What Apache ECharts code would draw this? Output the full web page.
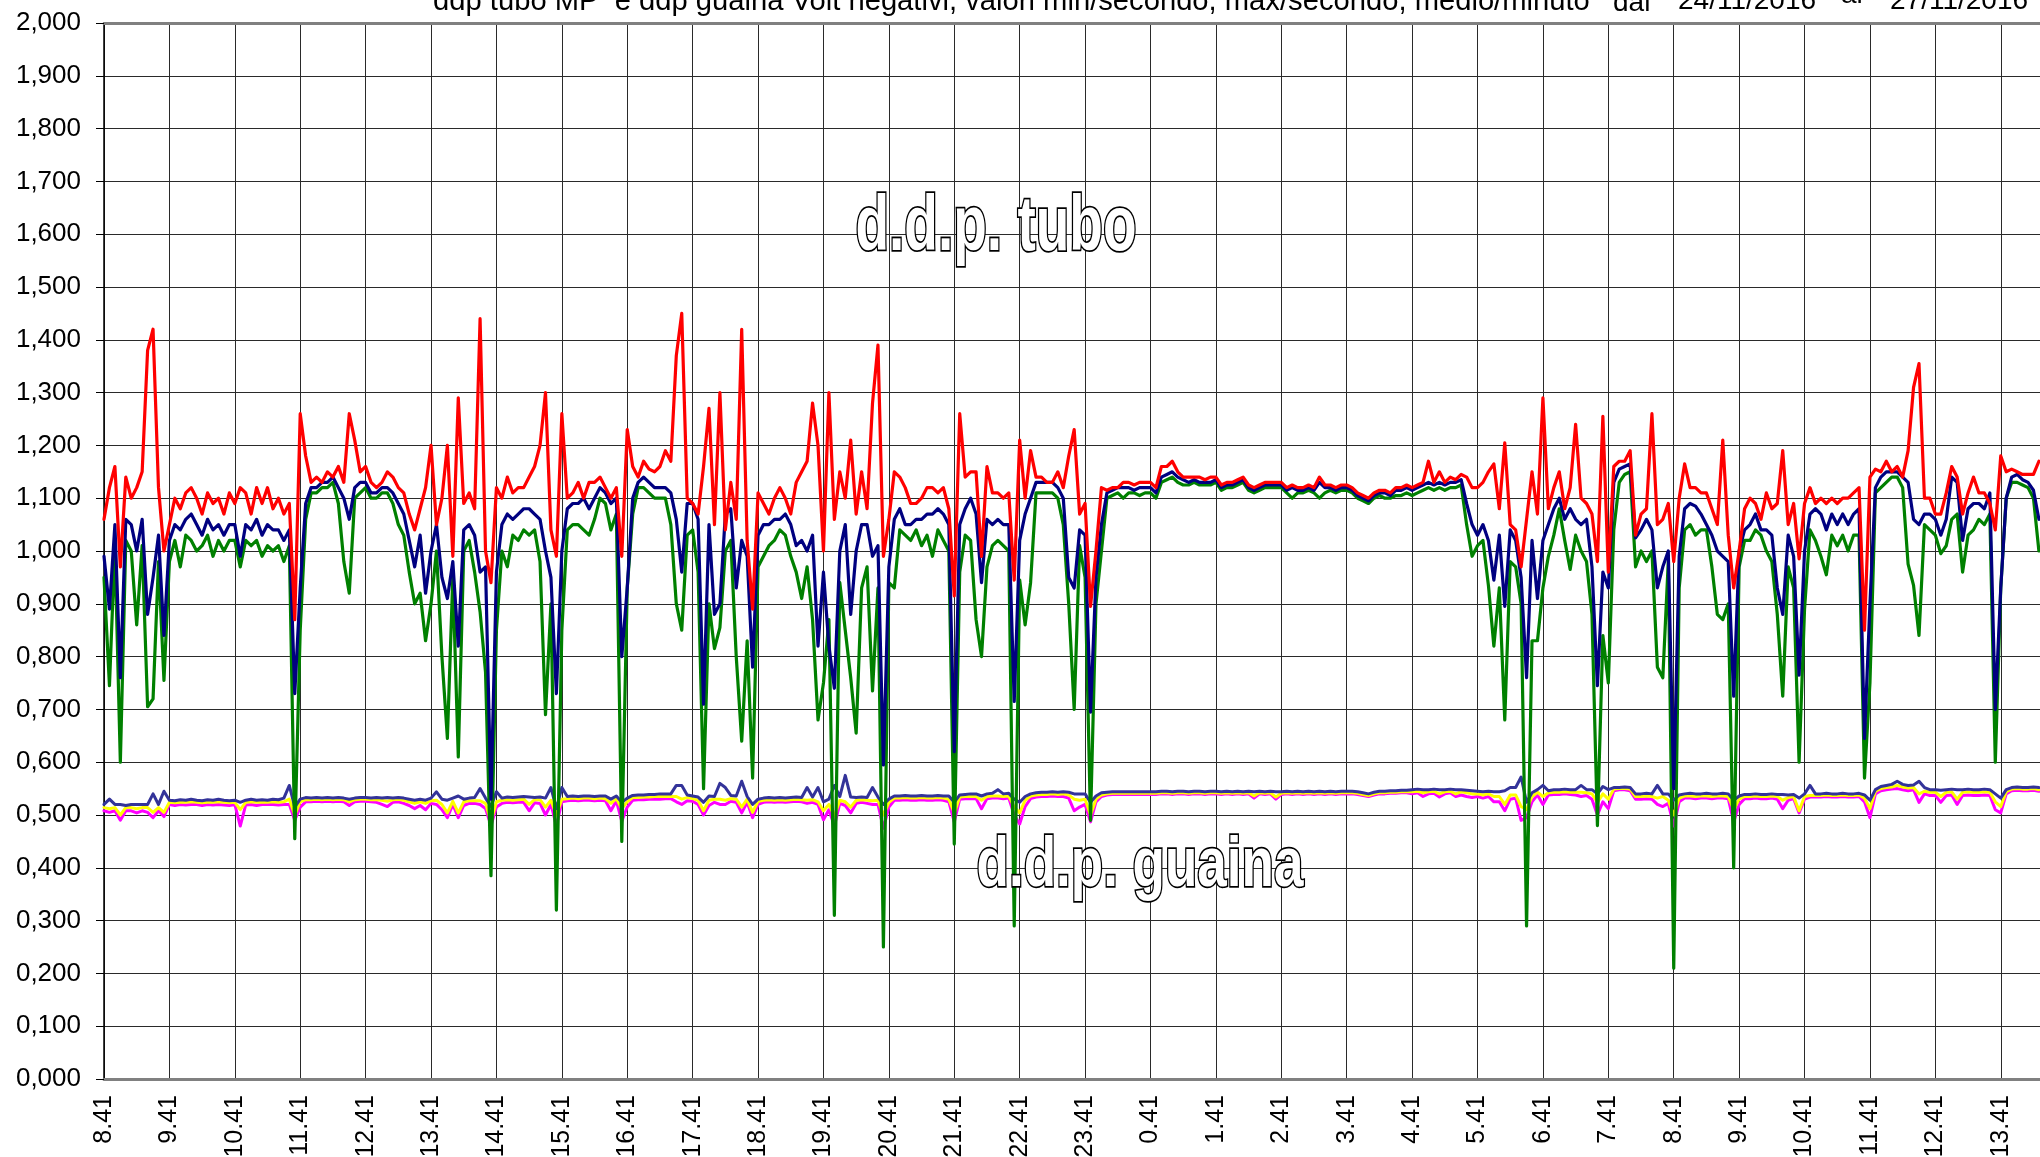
<!DOCTYPE html>
<html><head><meta charset="utf-8">
<script src="https://cdn.jsdelivr.net/npm/echarts/dist/echarts.min.js"></script>
<style>html,body{margin:0;padding:0;background:#fff}#c{width:2040px;height:1157px}</style>
</head><body><div id="c"></div>
<script>
// time step (minutes after 8.41) between consecutive readings
const STEP_MIN = 5;
const X_MAX = 1776;
const xTickLabels = ['8.41','9.41','10.41','11.41','12.41','13.41','14.41','15.41','16.41','17.41','18.41','19.41','20.41','21.41','22.41','23.41','0.41','1.41','2.41','3.41','4.41','5.41','6.41','7.41','8.41','9.41','10.41','11.41','12.41','13.41'];

// d.d.p. tubo - max/secondo (red)
const tuboMax = [
1.06,1.12,1.16,0.97,1.14,1.10,1.12,1.15,1.38,1.42,1.12,1.00,
1.05,1.10,1.08,1.11,1.12,1.10,1.07,1.11,1.09,1.10,1.07,1.11,
1.09,1.12,1.11,1.07,1.12,1.09,1.12,1.08,1.10,1.07,1.09,0.87,
1.26,1.18,1.13,1.14,1.13,1.15,1.14,1.16,1.13,1.26,1.21,1.15,
1.16,1.13,1.12,1.13,1.15,1.14,1.12,1.11,1.07,1.04,1.08,1.12,
1.20,1.05,1.10,1.20,0.99,1.29,1.09,1.11,1.08,1.44,1.00,0.94,
1.12,1.10,1.14,1.11,1.12,1.12,1.14,1.16,1.20,1.30,1.04,0.99,
1.26,1.10,1.11,1.13,1.10,1.13,1.13,1.14,1.12,1.10,1.12,0.99,
1.23,1.16,1.14,1.17,1.155,1.15,1.16,1.19,1.17,1.37,1.45,1.10,
1.09,1.07,1.16,1.27,1.05,1.30,1.04,1.13,1.06,1.42,1.02,0.89,
1.11,1.09,1.07,1.10,1.12,1.10,1.07,1.13,1.15,1.17,1.28,1.20,
1.00,1.30,1.06,1.15,1.10,1.21,1.07,1.15,1.08,1.28,1.39,0.99,
1.06,1.15,1.14,1.12,1.09,1.09,1.10,1.12,1.12,1.11,1.12,1.08,
0.915,1.26,1.14,1.15,1.15,0.99,1.16,1.11,1.11,1.10,1.11,0.945,
1.21,1.10,1.19,1.14,1.14,1.13,1.13,1.15,1.12,1.18,1.23,1.07,
1.09,0.895,1.00,1.12,1.115,1.12,1.12,1.13,1.13,1.125,1.13,1.13,
1.13,1.12,1.16,1.16,1.17,1.15,1.14,1.14,1.14,1.14,1.135,1.14,
1.14,1.125,1.13,1.13,1.135,1.14,1.125,1.12,1.125,1.13,1.13,1.13,
1.13,1.12,1.125,1.12,1.12,1.125,1.12,1.14,1.125,1.125,1.12,1.125,
1.125,1.12,1.11,1.105,1.10,1.11,1.115,1.115,1.11,1.12,1.12,1.125,
1.12,1.125,1.13,1.17,1.13,1.15,1.13,1.14,1.135,1.145,1.14,1.12,
1.12,1.13,1.15,1.165,1.08,1.205,1.05,1.04,0.97,1.06,1.15,1.07,
1.29,1.08,1.12,1.15,1.08,1.12,1.24,1.10,1.09,1.07,0.98,1.255,
0.96,1.16,1.17,1.17,1.19,1.03,1.07,1.08,1.26,1.05,1.06,1.09,
0.98,1.10,1.165,1.12,1.12,1.11,1.11,1.08,1.05,1.21,1.03,0.93,
1.00,1.08,1.10,1.09,1.06,1.11,1.08,1.09,1.19,1.05,1.09,0.985,
1.09,1.12,1.09,1.10,1.09,1.10,1.09,1.10,1.10,1.11,1.12,0.85,
1.14,1.155,1.15,1.17,1.15,1.16,1.14,1.19,1.31,1.355,1.10,1.10,
1.07,1.07,1.11,1.16,1.14,1.07,1.11,1.14,1.11,1.11,1.09,1.04,
1.18,1.15,1.155,1.15,1.145,1.145,1.145,1.17
];

// d.d.p. tubo - medio/minuto (navy)
const tuboMean = [
0.99,0.89,1.05,0.76,1.06,1.05,1.00,1.06,0.88,0.95,1.03,0.84,
1.02,1.05,1.04,1.06,1.07,1.05,1.03,1.06,1.04,1.05,1.03,1.05,
1.05,0.99,1.05,1.04,1.06,1.03,1.05,1.04,1.04,1.02,1.04,0.73,
0.93,1.09,1.12,1.12,1.13,1.13,1.14,1.12,1.10,1.06,1.12,1.13,
1.13,1.11,1.11,1.12,1.12,1.11,1.09,1.07,1.02,0.97,1.03,0.92,
1.00,1.05,0.95,0.91,0.98,0.82,1.04,1.05,1.03,0.96,0.97,0.53,
0.96,1.05,1.07,1.06,1.07,1.08,1.08,1.07,1.06,1.00,0.95,0.73,
1.00,1.08,1.09,1.09,1.10,1.08,1.10,1.12,1.11,1.09,1.10,0.80,
0.93,1.10,1.13,1.14,1.13,1.12,1.12,1.12,1.11,1.06,0.96,1.09,
1.09,1.06,0.71,1.05,0.88,0.90,1.07,1.08,0.93,1.02,0.99,0.78,
1.03,1.05,1.05,1.06,1.06,1.07,1.05,1.01,1.02,1.00,1.03,0.82,
0.96,0.82,0.74,1.00,1.05,0.88,1.00,1.05,1.05,0.99,1.01,0.595,
0.97,1.06,1.08,1.05,1.05,1.06,1.06,1.07,1.07,1.08,1.07,1.05,
0.62,1.05,1.08,1.10,1.07,0.94,1.06,1.05,1.06,1.05,1.05,0.715,
1.02,1.07,1.10,1.13,1.13,1.13,1.13,1.12,1.10,0.95,0.93,1.04,
1.03,0.695,0.95,1.05,1.11,1.115,1.12,1.12,1.12,1.115,1.12,1.12,
1.12,1.11,1.14,1.145,1.15,1.14,1.135,1.13,1.135,1.13,1.13,1.13,
1.135,1.12,1.125,1.125,1.13,1.135,1.12,1.115,1.12,1.125,1.125,1.125,
1.125,1.115,1.12,1.115,1.115,1.12,1.115,1.13,1.12,1.12,1.115,1.12,
1.12,1.115,1.105,1.10,1.095,1.105,1.11,1.11,1.105,1.115,1.115,1.12,
1.115,1.12,1.125,1.13,1.125,1.13,1.125,1.13,1.13,1.135,1.09,1.05,
1.03,1.05,1.02,0.945,1.03,0.895,1.04,1.02,0.95,0.76,1.02,0.91,
1.02,1.05,1.08,1.10,1.06,1.08,1.06,1.05,1.06,0.97,0.745,0.96,
0.93,1.13,1.155,1.16,1.165,1.025,1.04,1.06,1.04,0.93,0.97,1.00,
0.55,0.99,1.08,1.09,1.085,1.07,1.05,1.03,1.00,0.99,0.98,0.725,
1.00,1.04,1.05,1.07,1.04,1.04,1.03,0.93,0.88,1.03,0.99,0.765,
1.00,1.07,1.08,1.07,1.04,1.07,1.05,1.07,1.05,1.07,1.08,0.645,
0.90,1.12,1.14,1.15,1.15,1.15,1.14,1.13,1.06,1.05,1.07,1.07,
1.06,1.03,1.06,1.14,1.13,1.02,1.08,1.09,1.09,1.08,1.11,0.70,
0.93,1.10,1.14,1.145,1.135,1.13,1.115,1.06
];

// d.d.p. tubo - min/secondo (green)
const tuboMin = [
0.95,0.745,1.01,0.60,1.02,1.00,0.86,1.01,0.705,0.72,0.98,0.755,
0.98,1.02,0.97,1.03,1.02,1.00,1.01,1.03,0.99,1.02,1.00,1.02,
1.02,0.97,1.02,1.01,1.02,0.99,1.01,1.00,1.01,0.98,1.01,0.455,
0.85,1.06,1.11,1.11,1.12,1.12,1.13,1.09,0.98,0.92,1.10,1.11,
1.12,1.10,1.10,1.11,1.11,1.09,1.05,1.03,0.96,0.90,0.92,0.83,
0.90,1.00,0.80,0.645,0.95,0.61,1.00,1.02,0.96,0.885,0.77,0.385,
0.85,1.00,0.97,1.03,1.02,1.04,1.03,1.04,0.98,0.69,0.90,0.32,
0.85,1.04,1.05,1.05,1.04,1.03,1.06,1.10,1.09,1.04,1.07,0.45,
0.93,1.07,1.12,1.12,1.11,1.10,1.10,1.10,1.05,0.90,0.85,1.03,
1.04,0.96,0.55,0.90,0.815,0.855,1.00,1.02,0.80,0.64,0.83,0.57,
0.97,0.99,1.01,1.02,1.04,1.03,0.99,0.96,0.91,0.97,0.87,0.68,
0.75,0.87,0.31,0.94,0.85,0.76,0.655,0.93,0.97,0.735,0.93,0.25,
0.94,0.93,1.04,1.03,1.02,1.04,1.01,1.03,0.99,1.04,1.02,1.00,
0.445,0.96,1.03,1.02,0.87,0.80,0.97,1.01,1.02,1.01,1.00,0.29,
0.945,0.86,0.94,1.11,1.11,1.11,1.11,1.10,1.05,0.90,0.70,1.01,
0.95,0.49,0.90,1.00,1.10,1.105,1.11,1.10,1.11,1.11,1.105,1.11,
1.11,1.10,1.13,1.135,1.14,1.13,1.125,1.125,1.13,1.125,1.125,1.125,
1.13,1.115,1.12,1.12,1.125,1.13,1.115,1.11,1.115,1.12,1.12,1.12,
1.12,1.11,1.10,1.11,1.11,1.115,1.11,1.10,1.11,1.115,1.11,1.115,
1.115,1.11,1.10,1.095,1.09,1.10,1.105,1.10,1.10,1.105,1.105,1.11,
1.105,1.11,1.115,1.12,1.115,1.12,1.115,1.12,1.12,1.125,1.05,0.99,
1.01,1.02,0.935,0.82,0.93,0.68,0.98,0.97,0.90,0.29,0.83,0.83,
0.93,0.99,1.03,1.08,1.02,0.965,1.03,1.00,0.98,0.88,0.48,0.84,
0.75,1.04,1.13,1.145,1.15,0.97,1.00,0.98,1.00,0.78,0.76,0.98,
0.21,0.93,1.04,1.05,1.03,1.04,1.04,0.97,0.88,0.87,0.90,0.40,
0.97,1.02,1.02,1.04,1.03,1.00,0.98,0.88,0.725,0.97,0.93,0.60,
0.89,1.04,1.02,0.99,0.955,1.03,1.01,1.03,1.00,1.03,1.03,0.57,
0.75,1.11,1.12,1.13,1.14,1.14,1.12,0.975,0.935,0.84,1.05,1.04,
1.03,0.995,1.01,1.06,1.07,0.96,1.03,1.04,1.06,1.05,1.07,0.60,
0.93,1.10,1.13,1.13,1.125,1.12,1.10,1.00
];

// d.d.p. guaina - max/secondo (blue)
const guainaMax = [
0.52,0.53,0.52,0.52,0.518,0.52,0.52,0.52,0.52,0.54,0.52,0.545,
0.528,0.527,0.529,0.528,0.53,0.528,0.527,0.529,0.528,0.53,0.528,0.527,
0.528,0.524,0.528,0.53,0.528,0.529,0.528,0.53,0.529,0.532,0.556,0.515,
0.53,0.533,0.532,0.533,0.532,0.533,0.532,0.533,0.532,0.53,0.532,0.533,
0.533,0.532,0.533,0.532,0.533,0.532,0.533,0.532,0.53,0.528,0.53,0.528,
0.532,0.544,0.53,0.528,0.532,0.536,0.53,0.532,0.533,0.55,0.532,0.516,
0.544,0.532,0.534,0.533,0.534,0.535,0.534,0.533,0.534,0.532,0.552,0.512,
0.552,0.535,0.536,0.535,0.536,0.536,0.535,0.536,0.536,0.53,0.536,0.524,
0.532,0.537,0.538,0.538,0.539,0.539,0.54,0.54,0.54,0.556,0.556,0.538,
0.536,0.534,0.524,0.536,0.535,0.56,0.552,0.537,0.536,0.564,0.535,0.52,
0.53,0.532,0.533,0.532,0.533,0.532,0.533,0.534,0.533,0.552,0.534,0.552,
0.525,0.53,0.556,0.535,0.575,0.534,0.533,0.534,0.533,0.552,0.534,0.52,
0.53,0.536,0.536,0.537,0.536,0.536,0.537,0.536,0.536,0.537,0.536,0.536,
0.524,0.538,0.539,0.54,0.54,0.536,0.54,0.541,0.548,0.54,0.541,0.53,
0.524,0.535,0.54,0.542,0.543,0.543,0.544,0.543,0.544,0.543,0.54,0.54,
0.54,0.524,0.536,0.542,0.543,0.544,0.544,0.544,0.544,0.544,0.544,0.544,
0.544,0.544,0.545,0.545,0.544,0.545,0.545,0.544,0.545,0.545,0.544,0.545,
0.545,0.544,0.545,0.544,0.545,0.544,0.545,0.544,0.545,0.544,0.545,0.544,
0.544,0.545,0.544,0.545,0.544,0.545,0.544,0.545,0.544,0.545,0.544,0.545,
0.545,0.545,0.544,0.542,0.54,0.543,0.545,0.545,0.546,0.546,0.547,0.547,
0.548,0.549,0.548,0.548,0.549,0.548,0.548,0.549,0.548,0.548,0.547,0.546,
0.545,0.544,0.545,0.544,0.544,0.546,0.552,0.552,0.572,0.524,0.542,0.548,
0.556,0.546,0.548,0.548,0.549,0.548,0.548,0.556,0.548,0.548,0.54,0.554,
0.548,0.552,0.552,0.553,0.552,0.54,0.54,0.541,0.54,0.556,0.54,0.54,
0.528,0.538,0.54,0.541,0.54,0.54,0.541,0.54,0.54,0.541,0.54,0.528,
0.536,0.539,0.539,0.54,0.539,0.539,0.54,0.539,0.539,0.538,0.539,0.532,
0.54,0.556,0.54,0.54,0.541,0.54,0.54,0.541,0.54,0.54,0.541,0.538,
0.528,0.548,0.554,0.556,0.558,0.564,0.558,0.556,0.557,0.564,0.552,0.548,
0.548,0.547,0.548,0.549,0.548,0.548,0.549,0.548,0.548,0.549,0.548,0.54,
0.532,0.548,0.552,0.553,0.552,0.552,0.553,0.552
];

// d.d.p. guaina - medio/minuto (yellow)
const guainaMean = [
0.514,0.512,0.514,0.50,0.514,0.514,0.512,0.514,0.514,0.505,0.514,0.505,
0.524,0.523,0.524,0.524,0.525,0.524,0.523,0.524,0.524,0.525,0.524,0.523,
0.524,0.51,0.524,0.525,0.524,0.524,0.524,0.525,0.524,0.525,0.53,0.50,
0.525,0.529,0.529,0.53,0.529,0.53,0.529,0.53,0.529,0.525,0.529,0.53,
0.53,0.529,0.529,0.528,0.526,0.529,0.53,0.528,0.525,0.522,0.525,0.522,
0.527,0.528,0.52,0.504,0.526,0.504,0.525,0.527,0.527,0.527,0.522,0.488,
0.525,0.528,0.529,0.528,0.529,0.53,0.52,0.529,0.529,0.515,0.528,0.50,
0.53,0.531,0.532,0.531,0.532,0.532,0.531,0.532,0.531,0.522,0.531,0.512,
0.525,0.533,0.533,0.534,0.534,0.535,0.535,0.535,0.535,0.535,0.53,0.533,
0.531,0.528,0.508,0.528,0.53,0.53,0.528,0.531,0.53,0.515,0.53,0.505,
0.526,0.528,0.529,0.528,0.529,0.528,0.529,0.53,0.529,0.528,0.529,0.525,
0.508,0.52,0.498,0.528,0.525,0.515,0.528,0.529,0.528,0.527,0.528,0.50,
0.524,0.532,0.532,0.533,0.532,0.532,0.533,0.532,0.532,0.533,0.532,0.53,
0.504,0.534,0.535,0.535,0.535,0.528,0.535,0.536,0.536,0.535,0.536,0.515,
0.504,0.528,0.536,0.538,0.539,0.539,0.54,0.539,0.54,0.538,0.53,0.528,
0.53,0.50,0.53,0.538,0.54,0.541,0.541,0.541,0.541,0.541,0.541,0.541,
0.541,0.541,0.542,0.542,0.541,0.542,0.542,0.541,0.542,0.542,0.541,0.542,
0.542,0.541,0.542,0.541,0.542,0.541,0.542,0.536,0.542,0.541,0.542,0.534,
0.541,0.542,0.541,0.542,0.541,0.542,0.541,0.542,0.541,0.542,0.541,0.542,
0.542,0.542,0.541,0.539,0.537,0.54,0.542,0.542,0.543,0.543,0.544,0.544,
0.544,0.545,0.542,0.544,0.545,0.54,0.544,0.545,0.54,0.544,0.542,0.54,
0.54,0.538,0.54,0.535,0.535,0.52,0.538,0.538,0.516,0.51,0.535,0.543,
0.535,0.542,0.543,0.543,0.544,0.543,0.543,0.543,0.542,0.54,0.524,0.54,
0.53,0.549,0.55,0.55,0.549,0.535,0.535,0.536,0.535,0.532,0.535,0.528,
0.50,0.532,0.536,0.536,0.535,0.536,0.536,0.535,0.536,0.536,0.535,0.51,
0.53,0.535,0.535,0.536,0.535,0.535,0.536,0.535,0.528,0.533,0.535,0.508,
0.535,0.537,0.537,0.537,0.538,0.537,0.537,0.538,0.537,0.537,0.538,0.532,
0.512,0.545,0.55,0.552,0.553,0.556,0.553,0.551,0.552,0.54,0.545,0.543,
0.543,0.535,0.543,0.544,0.53,0.543,0.544,0.543,0.543,0.544,0.543,0.525,
0.516,0.544,0.549,0.55,0.549,0.549,0.55,0.548
];

// d.d.p. guaina - min/secondo (magenta)
const guainaMin = [
0.508,0.505,0.508,0.49,0.508,0.508,0.504,0.508,0.505,0.495,0.508,0.497,
0.52,0.518,0.52,0.519,0.52,0.52,0.518,0.52,0.519,0.52,0.519,0.518,
0.52,0.479,0.519,0.52,0.518,0.52,0.52,0.52,0.519,0.52,0.52,0.49,
0.515,0.525,0.525,0.526,0.525,0.526,0.525,0.526,0.525,0.518,0.525,0.526,
0.526,0.525,0.524,0.52,0.516,0.524,0.525,0.522,0.518,0.512,0.518,0.51,
0.522,0.52,0.51,0.495,0.52,0.495,0.518,0.522,0.522,0.52,0.512,0.48,
0.515,0.522,0.524,0.523,0.524,0.524,0.508,0.523,0.522,0.50,0.52,0.48,
0.525,0.527,0.528,0.527,0.528,0.528,0.527,0.528,0.527,0.508,0.527,0.488,
0.515,0.528,0.529,0.529,0.53,0.53,0.53,0.531,0.531,0.525,0.52,0.527,
0.526,0.52,0.50,0.518,0.524,0.52,0.52,0.526,0.524,0.504,0.524,0.495,
0.52,0.524,0.525,0.524,0.525,0.524,0.525,0.526,0.525,0.522,0.524,0.52,
0.491,0.51,0.479,0.522,0.518,0.504,0.522,0.524,0.522,0.52,0.52,0.475,
0.515,0.528,0.528,0.529,0.528,0.528,0.529,0.528,0.528,0.529,0.528,0.525,
0.487,0.53,0.531,0.531,0.531,0.512,0.531,0.532,0.532,0.531,0.532,0.50,
0.483,0.516,0.531,0.534,0.535,0.535,0.536,0.535,0.535,0.532,0.508,0.515,
0.52,0.487,0.525,0.535,0.538,0.539,0.539,0.539,0.539,0.539,0.539,0.539,
0.539,0.539,0.54,0.54,0.539,0.54,0.54,0.539,0.54,0.54,0.539,0.54,
0.54,0.539,0.54,0.539,0.54,0.539,0.54,0.532,0.54,0.539,0.54,0.53,
0.539,0.54,0.539,0.54,0.539,0.54,0.539,0.54,0.539,0.54,0.539,0.54,
0.54,0.54,0.539,0.537,0.535,0.538,0.54,0.54,0.541,0.541,0.542,0.542,
0.54,0.542,0.535,0.54,0.541,0.534,0.54,0.542,0.535,0.538,0.535,0.533,
0.535,0.532,0.535,0.525,0.525,0.508,0.53,0.532,0.49,0.495,0.525,0.538,
0.52,0.538,0.539,0.539,0.54,0.539,0.538,0.535,0.537,0.53,0.50,0.525,
0.512,0.546,0.548,0.548,0.546,0.53,0.53,0.531,0.53,0.52,0.516,0.522,
0.479,0.525,0.532,0.532,0.531,0.532,0.532,0.531,0.532,0.532,0.531,0.487,
0.52,0.531,0.531,0.532,0.531,0.531,0.532,0.53,0.512,0.528,0.531,0.504,
0.53,0.534,0.534,0.534,0.535,0.534,0.534,0.535,0.534,0.534,0.535,0.525,
0.495,0.54,0.546,0.548,0.549,0.55,0.548,0.546,0.548,0.524,0.54,0.537,
0.537,0.524,0.537,0.538,0.52,0.537,0.538,0.537,0.537,0.538,0.537,0.51,
0.504,0.54,0.546,0.547,0.546,0.546,0.547,0.545
];

const titleMain = 'ddp tubo MP  e ddp guaina Volt negativi, valori min/secondo, max/secondo, medio/minuto';
const titleFrom = 'dal';
const dateFrom = '24/11/2016';
const titleTo = 'al';
const dateTo = '27/11/2016';
const labelTubo = 'd.d.p. tubo';
const labelGuaina = 'd.d.p. guaina';

const toPairs = arr => arr.map((v, i) => [i * STEP_MIN, v]);
const FONT = '"Liberation Sans", Arial, sans-serif';

function lineSeries(name, values, color, z, width) {
  return {
    name, type: 'line', data: toPairs(values), showSymbol: false, symbol: 'none',
    silent: true, z, clip: true, animation: false,
    lineStyle: { color, width, join: 'round', cap: 'round' }
  };
}

function txt(text, x, y, font, extra) {
  return Object.assign({ type: 'text', x, y, z: 100, silent: true,
    style: { text, x: 0, y: 0, font, fill: '#000', align: 'left', textAlign: 'left', verticalAlign: 'middle', textVerticalAlign: 'middle' } }, extra || {});
}

const chart = echarts.init(document.getElementById('c'), null, { renderer: 'canvas' });
const option = {
  animation: false,
  backgroundColor: '#ffffff',
  grid: { left: 104, right: 0, top: 23, bottom: 78, containLabel: false, outerBoundsMode: 'none' },
  xAxis: [{
    type: 'value', min: 0, max: X_MAX, interval: 60, position: 'bottom',
    axisLine: { show: true, onZero: false, lineStyle: { color: '#808080', width: 3 } },
    axisTick: { show: false },
    axisLabel: {
      rotate: 90, margin: 16, fontSize: 25, fontFamily: FONT, color: '#000',
      showMaxLabel: false, hideOverlap: false,
      formatter: v => { const k = Math.round(v / 60); return (Math.abs(v - k * 60) < 0.01 && xTickLabels[k]) ? xTickLabels[k] : ''; }
    },
    splitLine: { show: true, lineStyle: { color: '#2a2a2a', width: 1 } }
  }, {
    type: 'value', min: 0, max: X_MAX, interval: 60, position: 'top',
    axisLine: { show: true, onZero: false, lineStyle: { color: '#808080', width: 3 } },
    axisTick: { show: false }, axisLabel: { show: false }, splitLine: { show: false }
  }],
  yAxis: {
    type: 'value', min: 0, max: 2, interval: 0.1,
    axisLine: { show: true, lineStyle: { color: '#000', width: 1.5 } },
    axisTick: { show: true, length: 8, lineStyle: { color: '#000', width: 1 } },
    axisLabel: {
      margin: 23, fontSize: 26, fontFamily: FONT, color: '#000',
      formatter: v => v.toFixed(3).replace('.', ',')
    },
    splitLine: { show: true, lineStyle: { color: '#2a2a2a', width: 1 } }
  },
  series: [
    lineSeries('guaina min/secondo', guainaMin, '#FF00FF', 2, 3),
    lineSeries('guaina medio/minuto', guainaMean, '#FFFF00', 3, 3),
    lineSeries('guaina max/secondo', guainaMax, '#333399', 4, 3),
    lineSeries('tubo min/secondo', tuboMin, '#008000', 5, 3.2),
    lineSeries('tubo medio/minuto', tuboMean, '#000080', 6, 3.2),
    lineSeries('tubo max/secondo', tuboMax, '#FF0000', 7, 3.2)
  ],
  graphic: [
    txt(titleMain, 433, 1.5, '29.2px ' + FONT),
    txt(titleFrom, 1613, 3, '28px ' + FONT),
    txt(dateFrom, 1678, 1.5, '28px ' + FONT),
    txt(titleTo, 1841, -4.5, '28px ' + FONT),
    txt(dateTo, 1890, 1.5, '28px ' + FONT),
    { type: 'text', x: 996, y: 229, scaleY: 1.4, z: 100, silent: true,
      style: { text: labelTubo, x: 0, y: 0, font: 'bold 55px ' + FONT, fill: '#ffffff', stroke: '#000000', lineWidth: 2.5, align: 'center', textAlign: 'center', verticalAlign: 'middle', textVerticalAlign: 'middle' } },
    { type: 'text', x: 1140, y: 867, scaleY: 1.33, z: 100, silent: true,
      style: { text: labelGuaina, x: 0, y: 0, font: 'bold 53px ' + FONT, fill: '#ffffff', stroke: '#000000', lineWidth: 2.5, align: 'center', textAlign: 'center', verticalAlign: 'middle', textVerticalAlign: 'middle' } }
  ]
};
chart.setOption(option);
</script>
</body></html>
